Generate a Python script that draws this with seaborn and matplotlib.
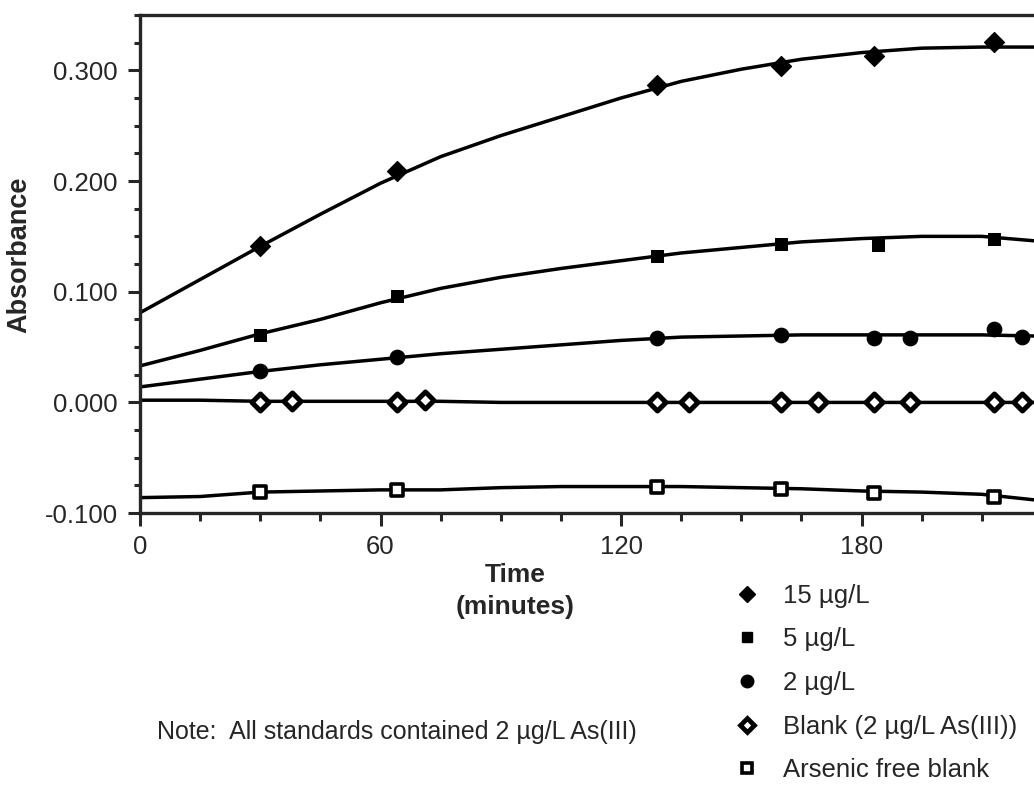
import matplotlib
matplotlib.use('Agg')
import matplotlib.pyplot as plt
from matplotlib.lines import Line2D
from matplotlib.ticker import MultipleLocator, FormatStrFormatter
import seaborn as sns

# Points mesurés (temps en minutes, absorbance)
time_15 = [30, 64, 129, 160, 183, 213]
abs_15 = [0.141, 0.209, 0.287, 0.304, 0.313, 0.326]
time_5 = [30, 64, 129, 160, 184, 213]
abs_5 = [0.061, 0.096, 0.132, 0.143, 0.142, 0.148]
time_2 = [30, 64, 129, 160, 183, 192, 213, 220]
abs_2 = [0.028, 0.041, 0.058, 0.061, 0.058, 0.058, 0.066, 0.059]
time_blank = [30, 38, 64, 71, 129, 137, 160, 169, 183, 192, 213, 220]
abs_blank = [0.000, 0.001, 0.000, 0.002, 0.000, 0.000, 0.000, 0.000, 0.000, 0.000, 0.000, 0.000]
time_free = [30, 64, 129, 160, 183, 213]
abs_free = [-0.081, -0.079, -0.076, -0.078, -0.082, -0.085]

# Courbes lissées
fit_time = [0, 15, 30, 45, 60, 75, 90, 105, 120, 135, 150, 165, 180, 195, 210, 223]
fit_15 = [0.081, 0.111, 0.141, 0.170, 0.198, 0.222, 0.241, 0.258, 0.275, 0.290, 0.301, 0.310, 0.316, 0.320, 0.321, 0.321]
fit_5 = [0.033, 0.047, 0.062, 0.075, 0.090, 0.103, 0.113, 0.121, 0.128, 0.135, 0.140, 0.145, 0.148, 0.150, 0.150, 0.146]
fit_2 = [0.014, 0.021, 0.028, 0.034, 0.039, 0.044, 0.048, 0.052, 0.056, 0.059, 0.060, 0.061, 0.061, 0.061, 0.061, 0.060]
fit_blank = [0.002, 0.002, 0.001, 0.001, 0.001, 0.001, 0.000, 0.000, 0.000, 0.000, 0.000, 0.000, 0.000, 0.000, 0.000, 0.000]
fit_free = [-0.086, -0.085, -0.081, -0.080, -0.079, -0.079, -0.077, -0.076, -0.076, -0.076, -0.077, -0.078, -0.080, -0.081, -0.083, -0.088]

labels = ['15 µg/L', '5 µg/L', '2 µg/L', 'Blank (2 µg/L As(III))', 'Arsenic free blank']

sns.set_style('ticks')
plt.rcParams['font.family'] = ['Liberation Sans', 'DejaVu Sans']

fig = plt.figure(figsize=(10.34, 7.87), dpi=100)
ax = fig.add_axes([0.1354, 0.348, 0.8646, 0.633])

for fit in [fit_15, fit_5, fit_2, fit_blank, fit_free]:
    sns.lineplot(x=fit_time, y=fit, ax=ax, color='black', lw=2.5, sort=False)

sns.scatterplot(x=time_15, y=abs_15, ax=ax, marker='D', s=105, color='black', edgecolor='black', zorder=3)
sns.scatterplot(x=time_5, y=abs_5, ax=ax, marker='s', s=85, color='black', edgecolor='black', zorder=3)
sns.scatterplot(x=time_2, y=abs_2, ax=ax, marker='o', s=110, color='black', edgecolor='black', zorder=3)
sns.scatterplot(x=time_blank, y=abs_blank, ax=ax, marker='D', s=75, color='white', edgecolor='black',
                linewidth=3.6, zorder=3)
sns.scatterplot(x=time_free, y=abs_free, ax=ax, marker='s', s=70, color='white', edgecolor='black',
                linewidth=2.6, zorder=3)

ax.set_xlim(0, 223)
ax.set_ylim(-0.1, 0.35)
ax.xaxis.set_major_locator(MultipleLocator(60))
ax.xaxis.set_minor_locator(MultipleLocator(15))
ax.yaxis.set_major_locator(MultipleLocator(0.1))
ax.yaxis.set_minor_locator(MultipleLocator(0.025))
ax.yaxis.set_major_formatter(FormatStrFormatter('%.3f'))

for side in ['left', 'bottom', 'top']:
    ax.spines[side].set_linewidth(2.4)
ax.spines['right'].set_visible(False)
ax.tick_params(axis='both', which='major', direction='out', length=9, width=2.2, labelsize=18.5, pad=7)
ax.tick_params(axis='both', which='minor', direction='out', length=4.5, width=2.2)
ax.tick_params(axis='x', which='minor', length=5.5)

ax.set_xlabel('Time\n(minutes)', fontsize=19, fontweight='bold', linespacing=1.4)
ax.xaxis.set_label_coords(0.4195, -0.1, transform=ax.transAxes)
ax.xaxis.label.set_verticalalignment('top')
ax.set_ylabel('Absorbance', fontsize=19.5, fontweight='bold')
ax.yaxis.set_label_coords(-0.12, 0.518, transform=ax.transAxes)

fig.text(0.152, 0.070, 'Note:  All standards contained 2 µg/L As(III)', fontsize=18, va='center')

handles = [
    Line2D([], [], marker='D', color='black', linestyle='none', markersize=8),
    Line2D([], [], marker='s', color='black', linestyle='none', markersize=7),
    Line2D([], [], marker='o', color='black', linestyle='none', markersize=9),
    Line2D([], [], marker='D', markerfacecolor='white', markeredgecolor='black', markeredgewidth=3.4,
           linestyle='none', markersize=7.5),
    Line2D([], [], marker='s', markerfacecolor='white', markeredgecolor='black', markeredgewidth=2.6,
           linestyle='none', markersize=7),
]
fig.legend(handles, labels, loc='upper left', bbox_to_anchor=(0.710, 0.258), frameon=False,
           fontsize=18.5, handlelength=1.0, handletextpad=0.9, borderpad=0, borderaxespad=0,
           labelspacing=0.76)

fig.savefig('out.png', dpi=100)
